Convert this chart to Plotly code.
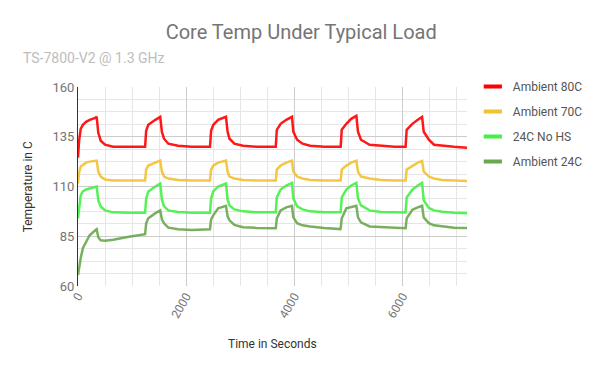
import plotly.graph_objects as go

seconds = [0, 20, 50, 90, 150, 215, 320, 345, 375, 420, 500, 650, 940, 1230,
           1240, 1260, 1300, 1430, 1520, 1550, 1590, 1670, 1850, 2100, 2430,
           2440, 2460, 2500, 2590, 2735, 2765, 2800, 2890, 3050, 3300, 3645,
           3655, 3675, 3745, 3850, 3955, 3980, 4050, 4150, 4290, 4550, 4850,
           4855, 4875, 4960, 5050, 5145, 5175, 5230, 5390, 5600, 5850, 6045,
           6055, 6075, 6180, 6280, 6360, 6390, 6485, 6580, 6730, 6950, 7190]

ambient_80c = [124.5, 133, 139, 141, 142.5, 143.5, 144.5, 145, 137, 133, 131, 130, 130, 130,
               130, 138, 141, 143.5, 145, 137.5, 134, 131.5, 130.5, 130, 130,
               130, 138, 141, 143.5, 145, 137.5, 134, 131.5, 130.5, 130, 130,
               130, 138.5, 141.5, 143.5, 145, 137.5, 133.5, 131.5, 130.5, 130, 130,
               130, 138.5, 141.5, 144, 145.5, 137.5, 133.5, 131, 130.5, 130, 130,
               130, 138.5, 141.5, 143.5, 145, 137.5, 133.5, 131, 130.5, 130, 129.5]

ambient_70c = [111.5, 117, 120, 121, 122, 122.5, 123, 123, 117.5, 115, 113.5, 113, 113, 113,
               113, 118.5, 120.5, 122, 123, 117.5, 115, 114, 113.3, 113, 113,
               113, 118.5, 120.5, 122, 123, 117.5, 115, 114, 113.3, 113, 113,
               113, 118.5, 120.5, 122, 123, 117.5, 115, 114, 113.3, 113, 113,
               113, 118.5, 120.5, 122, 123, 117.5, 115, 114, 113.3, 113, 113,
               113, 118.5, 120.5, 122, 122.8, 117.5, 115, 114, 113.3, 113, 112.8]

no_hs_24c = [94, 100, 105.5, 107.5, 108.5, 109, 109.5, 110, 103, 100, 98, 97, 96.8, 96.8,
             96.8, 104, 107.5, 110, 111.5, 103.5, 100, 98, 97.2, 96.8, 96.8,
             96.8, 104, 107.5, 110, 111.5, 103.5, 100.5, 98.5, 97.5, 97, 96.8,
             97, 104.5, 108.5, 110.5, 111.8, 104, 100, 98.5, 97.5, 97, 96.8,
             97, 104.5, 108.5, 110.5, 111.8, 104, 100.5, 98, 97.2, 97, 96.8,
             96.9, 104.5, 108.4, 110.5, 111.8, 103, 99.2, 98, 97.3, 96.8, 96.6]

ambient_24c = [65.5, 69.5, 74, 79, 82.5, 85.5, 88, 88.5, 84.5, 83, 82.8, 83.2, 84.8, 85.7,
               86, 91.5, 94, 96.6, 98, 93.5, 91.5, 89.3, 88.5, 88.2, 88.2,
               88.5, 93.5, 95.5, 99, 100.3, 95, 93, 90.7, 89.5, 89.2, 88.8,
               89, 94, 98, 99.5, 100.3, 94.5, 91.6, 90.5, 89.9, 89.2, 88.6,
               89, 94, 99, 99.8, 100.3, 94.5, 92, 89.9, 89.5, 89.2, 88.8,
               89, 94, 98.3, 99.5, 100.3, 94.5, 91.6, 90.5, 89.9, 89.3, 89.1]

series_names = ["Ambient 80C", "Ambient 70C", "24C No HS", "Ambient 24C"]
series_values = [ambient_80c, ambient_70c, no_hs_24c, ambient_24c]
series_colors = ["#ff0000", "#f1c232", "#44f044", "#6aa84f"]

y_ticks = [60, 85, 110, 135, 160]
x_ticks = [0, 2000, 4000, 6000]

fig = go.Figure()
for name, vals, col in zip(series_names, series_values, series_colors):
    fig.add_trace(go.Scatter(x=seconds, y=vals, mode="lines", name=name,
                             line=dict(color=col, width=2.5), opacity=0.9,
                             showlegend=False, hoverinfo="skip"))
for i, (name, col) in enumerate(zip(series_names, series_colors)):
    fig.add_trace(go.Scatter(x=[None], y=[None], mode="markers", name=name,
                             legendgroup=f"g{i}",
                             marker=dict(symbol="line-ew", size=13, color=col,
                                         line=dict(width=4, color=col))))

grey = "#757575"
fig.update_layout(
    width=600, height=371,
    margin=dict(l=78, r=128, t=87, b=85),
    paper_bgcolor="white", plot_bgcolor="white",
    font=dict(family="Roboto", size=12, color=grey),
    title=dict(text="Core Temp Under Typical Load", x=0.502, xref="container",
               xanchor="center", y=0.915, yanchor="middle",
               font=dict(size=20, color=grey, family="Roboto")),
    legend=dict(x=1.015, y=1.075, xanchor="left", yanchor="top",
                font=dict(size=12, color="#555555"), tracegroupgap=6,
                traceorder="grouped", itemsizing="trace"),
    showlegend=True,
)
fig.update_xaxes(range=[0, 7190], tickvals=x_ticks, ticktext=[str(v) for v in x_ticks],
                 tickangle=-60, showgrid=True, gridcolor="#cccccc", gridwidth=1,
                 minor=dict(dtick=500, tick0=0, showgrid=True, gridcolor="#e6e6e6"),
                 zeroline=False, showline=False, ticks="",
                 tickfont=dict(size=12, color=grey))
fig.update_yaxes(range=[60, 160], tickvals=y_ticks, showgrid=True, gridcolor="#cccccc",
                 minor=dict(dtick=6.25, tick0=60, showgrid=True, gridcolor="#e6e6e6"),
                 zeroline=False, showline=True, linecolor="#333333", linewidth=1,
                 ticks="", tickfont=dict(size=13, color=grey))
fig.add_annotation(text="TS-7800-V2 @ 1.3 GHz", xref="paper", yref="paper",
                   x=-0.147, y=1.146, xanchor="left", yanchor="middle",
                   showarrow=False, font=dict(size=14, color="#bdbdbd"))
fig.add_annotation(text="Time in Seconds", xref="paper", yref="paper",
                   x=0.5, y=-0.291, xanchor="center", yanchor="middle",
                   showarrow=False, font=dict(size=12, color="#333333"))
fig.add_annotation(text="Temperature in C", xref="paper", yref="paper",
                   x=-0.129, y=0.5, xanchor="center", yanchor="middle", textangle=-90,
                   showarrow=False, font=dict(size=12, color="#333333"))
fig.write_html("out.html", config={"displayModeBar": False},
               post_script="document.body.style.margin='0';")
